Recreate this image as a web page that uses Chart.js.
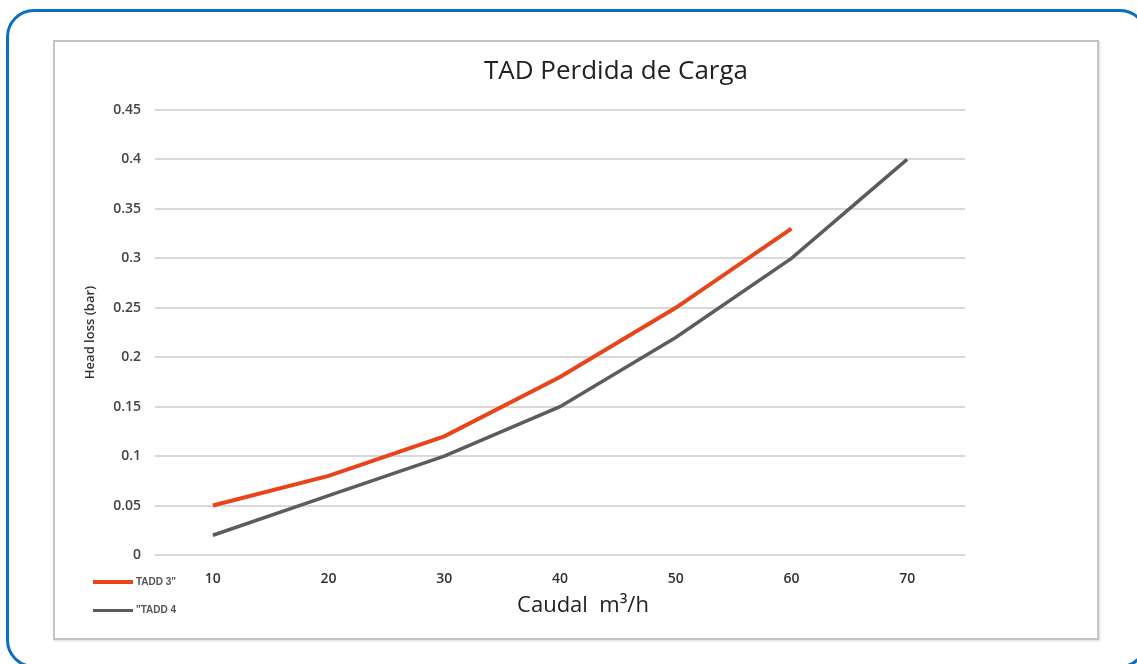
<!DOCTYPE html>
<html>
<head>
<meta charset="utf-8">
<script src="https://cdn.jsdelivr.net/npm/chart.js@4/dist/chart.umd.min.js"></script>
<style>
  html, body { margin: 0; padding: 0; background: #fff; }
  body { width: 1137px; height: 664px; position: relative; overflow: hidden; font-family: 'Open Sans', sans-serif; }
  .frame { position: absolute; left: 6px; top: 9px; width: 1136px; height: 653px; border: 3px solid #0b6fbf; border-radius: 28px; }
  .panel { position: absolute; left: 53px; top: 40px; width: 1042px; height: 596px; border: 2px solid #c4c4c4; box-shadow: 1px 1px 2px rgba(0,0,0,0.15); background: #fff; }
  #chart { position: absolute; left: 0; top: 0; }
  .title { position: absolute; left: 416px; width: 400px; top: 51px; text-align: center; font-size: 26px; color: #222; }
  .xtitle { position: absolute; left: 433px; width: 300px; top: 588px; text-align: center; font-size: 22px; color: #222; white-space: pre; }
  .legend { position: absolute; left: 93px; font-size: 10px; color: #555; font-weight: 600; font-family: 'Liberation Sans Narrow', 'Liberation Sans', sans-serif; }
  .legend span.sw { display: inline-block; width: 40px; height: 4px; vertical-align: middle; margin-right: 3px; }
</style>
</head>
<body>
<div class="frame"></div>
<div class="panel"></div>
<canvas id="chart" width="1137" height="664"></canvas>
<div class="title">TAD Perdida de Carga</div>
<div class="xtitle">Caudal  m³/h</div>
<div class="legend" style="top:576px"><span class="sw" style="background:#e8451b"></span>TADD 3"</div>
<div class="legend" style="top:604px"><span class="sw" style="background:#5c5c5c;height:3.5px"></span>"TADD 4</div>
<script>
'use strict'

const caudal = ['10', '20', '30', '40', '50', '60', '70'];
const tadd3 = [0.05, 0.08, 0.12, 0.18, 0.25, 0.33, null];
const tadd4 = [0.02, 0.06, 0.10, 0.15, 0.22, 0.30, 0.40];
const yTicks = [0, 0.05, 0.1, 0.15, 0.2, 0.25, 0.3, 0.35, 0.4, 0.45];

Chart.defaults.font.family = "'Open Sans', sans-serif";

new Chart(document.getElementById('chart'), {
	type: 'line',
	data: {
		labels: caudal,
		datasets: [
			{
				label: 'TADD 3"',
				data: tadd3,
				borderColor: '#e8451b',
				borderWidth: 4,
				pointRadius: 0,
				tension: 0,
			},
			{
				label: '"TADD 4',
				data: tadd4,
				borderColor: '#5c5c5c',
				borderWidth: 3.5,
				pointRadius: 0,
				tension: 0,
			},
		],
	},
	options: {
		responsive: false,
		animation: false,
		layout: {
			padding: { left: 80, right: 172, top: 110, bottom: 29 },
		},
		plugins: {
			legend: { display: false },
			tooltip: { enabled: false },
		},
		scales: {
			y: {
				min: 0,
				max: 0.45,
				afterBuildTicks: (s) => { s.ticks = yTicks.map(v => ({ value: v })); },
				afterFit: (s) => { s.width = 75; },
				border: { display: false },
				grid: { color: '#d9d9d9', lineWidth: 2, drawTicks: false },
				ticks: {
					padding: 14,
					color: '#444',
					font: { size: 14, weight: '600' },
					callback: (v) => String(Math.round(v * 100) / 100),
				},
				title: {
					display: true,
					text: 'Head loss (bar)',
					color: '#333',
					font: { size: 13, weight: '600' },
					padding: { top: 2, bottom: 0 },
				},
			},
			x: {
				offset: true,
				afterFit: (s) => { s.height = 80; },
				border: { display: false },
				grid: { display: false, drawTicks: false },
				ticks: {
					padding: 16,
					color: '#333',
					font: { size: 14, weight: '600' },
				},
			},
		},
	},
});
</script>
</body>
</html>
